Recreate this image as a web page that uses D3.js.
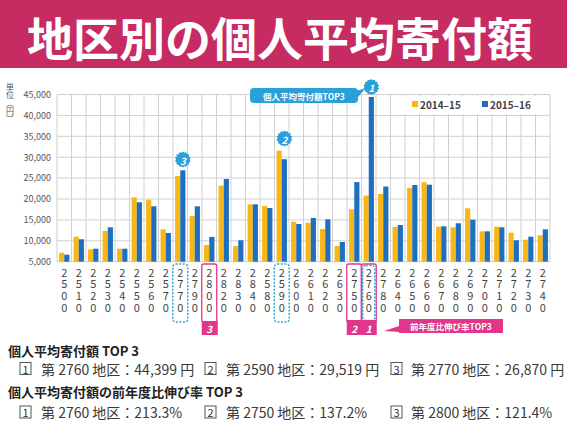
<!DOCTYPE html>
<html><head><meta charset="utf-8">
<script src="https://cdn.jsdelivr.net/npm/d3@7"></script>
<style>body{margin:0;background:#fff}svg{display:block}text{font-family:"Noto Sans CJK JP","Noto Sans",sans-serif}</style>
</head><body>
<script>
const title = "地区別の個人平均寄付額";
const categories = ["2500","2510","2520","2530","2540","2550","2560","2570","2770","2790","2800","2820","2830","2840","2580","2590","2600","2610","2620","2630","2750","2760","2780","2640","2650","2660","2670","2680","2690","2700","2710","2720","2730","2740"];
const seriesNames = ["2014–15","2015–16"];
const v2014 = [7150,10980,7960,12340,8110,20400,19830,12750,25500,15930,9000,23180,8760,18730,18330,31560,14570,14330,12820,8760,17530,20815,21200,13300,22630,24000,13370,13230,17770,12270,13370,11940,10260,11320];
const v2015 = [6670,10360,8110,13230,8110,19210,18250,11870,26870,18250,10930,24780,10120,18730,17850,29519,14020,15450,15140,9710,24050,44399,22980,13780,23350,23420,13470,14190,15050,12270,13230,10120,10980,12750];
const yTicks = [5000,10000,15000,20000,25000,30000,35000,40000,45000];
const top3Amount = ["2760","2590","2770"];
const top3Growth = ["2760","2750","2800"];
const amountLines = [["1","第 2760 地区：44,399 円"],["2","第 2590 地区：29,519 円"],["3","第 2770 地区：26,870 円"]];
const growthLines = [["1","第 2760 地区：213.3%"],["2","第 2750 地区：137.2%"],["3","第 2800 地区：121.4%"]];

const W=567,H=425;
const C1="#F8B714", C2="#1F6FBE", PINK="#E0378B", CYAN="#2FA8DE", BADGE="#2A9FD8";
const svg=d3.select("body").append("svg").attr("width",W).attr("height",H);

// title band
svg.append("rect").attr("x",0).attr("y",0).attr("width",W).attr("height",68).attr("fill","#C62B61");
svg.append("text").attr("x",280).attr("y",36).attr("text-anchor","middle").attr("dominant-baseline","central")
  .attr("fill","#fff").attr("font-size",46).attr("font-weight",700).text(title);

const x=d3.scaleBand().domain(categories).range([57,550]).padding(0);
const xs=d3.scaleBand().domain(seriesNames).range([0,x.bandwidth()]).paddingInner(0).paddingOuter(0.4);
const y=d3.scaleLinear().domain([5000,45000]).range([261.7,94.5]);

// grid
const g=svg.append("g");
g.selectAll(".hg").data(yTicks).join("line").attr("x1",57).attr("x2",550)
  .attr("y1",d=>y(d)).attr("y2",d=>y(d)).attr("stroke","#d0d0d0").attr("stroke-width",1);
const bounds=categories.map(c=>x(c)).concat([x(categories[categories.length-1])+x.bandwidth()]);
g.selectAll(".vg").data(bounds).join("line").attr("x1",d=>d).attr("x2",d=>d)
  .attr("y1",y(45000)).attr("y2",y(5000)).attr("stroke","#d0d0d0").attr("stroke-width",1);

// y tick labels
const ya=svg.append("g").attr("transform","translate(51,0)")
  .call(d3.axisLeft(y).tickValues(yTicks).tickSize(0).tickPadding(0).tickFormat(d3.format(",")));
ya.select(".domain").remove();
ya.selectAll("text").attr("font-size",9).attr("fill","#555").attr("font-family","'Open Sans',sans-serif");

// unit label
svg.append("text").attr("x",10).attr("y",83).attr("font-size",8).attr("fill","#555")
  .style("writing-mode","vertical-rl").text("単位（円）");

// legend background + legend
svg.append("rect").attr("x",400).attr("y",96).attr("width",147).attr("height",18).attr("fill","#fff");
const lg=svg.append("g");
[[seriesNames[0],C1,412],[seriesNames[1],C2,482]].forEach(([n,c,lx])=>{
  lg.append("rect").attr("x",lx).attr("y",101).attr("width",6).attr("height",6).attr("fill",c);
  lg.append("text").attr("x",lx+8).attr("y",104.5).attr("dominant-baseline","central").attr("font-size",10)
    .attr("font-weight",700).attr("fill","#444").text(n);
});

// bars
const rows=categories.map((c,i)=>({c,vals:[{s:seriesNames[0],v:v2014[i],col:C1},{s:seriesNames[1],v:v2015[i],col:C2}]}));
const bg=svg.append("g").selectAll("g").data(rows).join("g").attr("transform",d=>`translate(${x(d.c)},0)`);
bg.selectAll("rect").data(d=>d.vals).join("rect").attr("x",d=>xs(d.s)).attr("width",xs.bandwidth())
  .attr("y",d=>y(d.v)).attr("height",d=>y(5000)-y(d.v)).attr("fill",d=>d.col);

// x labels (stacked digits)
const cx=c=>x(c)+x.bandwidth()/2;
const xl=svg.append("g");
categories.forEach(c=>{
  c.split("").forEach((ch,k)=>{
    xl.append("text").attr("x",cx(c)).attr("y",276.5+k*11.9).attr("text-anchor","middle")
      .attr("font-size",11).attr("fill","#444").attr("font-family","'Open Sans',sans-serif").text(ch);
  });
});

// pink boxes (growth top3)
top3Growth.forEach(c=>{
  svg.append("rect").attr("x",cx(c)-7.5).attr("y",264).attr("width",15).attr("height",58).attr("rx",2)
    .attr("fill","none").attr("stroke",PINK).attr("stroke-width",1.3);
});
// cyan dotted boxes (amount top3)
top3Amount.forEach(c=>{
  const w=c==="2760"?12:15;
  svg.append("rect").attr("x",cx(c)-w/2).attr("y",c==="2760"?265.5:264).attr("width",w).attr("height",c==="2760"?55:58).attr("rx",3)
    .attr("fill","none").attr("stroke",CYAN).attr("stroke-width",1.5).attr("stroke-dasharray","2,1.5");
});
// pink tabs
function tab(x0,x1,y0,y1){svg.append("rect").attr("x",x0).attr("y",y0).attr("width",x1-x0).attr("height",y1-y0).attr("fill",PINK);}
tab(cx("2800")-7.5,cx("2800")+8.5,321,335);
tab(cx("2750")-7.5,cx("2760")+8,320,335);
top3Growth.forEach((c,i)=>{
  svg.append("text").attr("x",cx(c)).attr("y",328.5).attr("text-anchor","middle").attr("dominant-baseline","central")
    .attr("font-size",10).attr("font-weight",700).attr("font-style","italic").attr("fill","#fff").text(String(i+1));
});
// growth callout
svg.append("path").attr("d","M399,326 L384,331 L399,332 Z").attr("fill",PINK);
svg.append("rect").attr("x",399).attr("y",319).attr("width",104).attr("height",14).attr("fill",PINK);
svg.append("text").attr("x",451).attr("y",326).attr("text-anchor","middle").attr("dominant-baseline","central")
  .attr("font-size",8.5).attr("font-weight",700).attr("fill","#fff").text("前年度比伸び率TOP3");

// badges on top bars
function star(r1,r2,n){return d3.range(n*2).map(i=>{const a=i*Math.PI/n;const r=i%2?r2:r1;return [Math.sin(a)*r,-Math.cos(a)*r];});}
const starPts=star(8,6.8,14);
const badgePos=[["2760",87],["2590",138.5],["2770",159.5]];
badgePos.forEach(([c,by],i)=>{
  const bx=x(c)+xs(seriesNames[1])+xs.bandwidth()/2;
  const bgp=svg.append("g").attr("transform",`translate(${bx},${by})`);
  bgp.append("path").attr("d",d3.line()(starPts)+"Z").attr("fill",BADGE);
  bgp.append("text").attr("y",0.5).attr("text-anchor","middle").attr("dominant-baseline","central")
    .attr("font-size",10).attr("font-weight",700).attr("font-style","italic").attr("fill","#fff").text(String(i+1));
});
// amount callout bubble
svg.append("rect").attr("x",250).attr("y",88).attr("width",108).attr("height",15).attr("rx",4).attr("fill",BADGE);
svg.append("path").attr("d","M356,91 L366,88 L358,97 Z").attr("fill",BADGE);
svg.append("text").attr("x",304).attr("y",95.5).attr("text-anchor","middle").attr("dominant-baseline","central")
  .attr("font-size",8.5).attr("font-weight",700).attr("fill","#fff").text("個人平均寄付額TOP3");

// bottom text
const bt=svg.append("g");
bt.append("text").attr("x",8).attr("y",350).attr("dominant-baseline","central").attr("font-size",13).attr("font-weight",700).attr("fill","#222").text("個人平均寄付額 TOP 3");
bt.append("text").attr("x",8).attr("y",391.5).attr("dominant-baseline","central").attr("font-size",13).attr("font-weight",700).attr("fill","#222").text("個人平均寄付額の前年度比伸び率 TOP 3");
const colX=[[20,41],[205,226],[391,411]];
function line(items,yy){
  items.forEach(([n,t],i)=>{
    const [bx,tx]=colX[i];
    bt.append("rect").attr("x",bx).attr("y",yy-6).attr("width",11).attr("height",12).attr("fill","#fff").attr("stroke","#555").attr("stroke-width",1);
    bt.append("text").attr("x",bx+5.5).attr("y",yy).attr("text-anchor","middle").attr("dominant-baseline","central").attr("font-size",11).attr("fill","#333").text(n);
    bt.append("text").attr("x",tx).attr("y",yy).attr("dominant-baseline","central").attr("font-size",14).attr("fill","#3a3a3a").text(t);
  });
}
line(amountLines,368.5);
line(growthLines,412);
</script>
</body></html>
